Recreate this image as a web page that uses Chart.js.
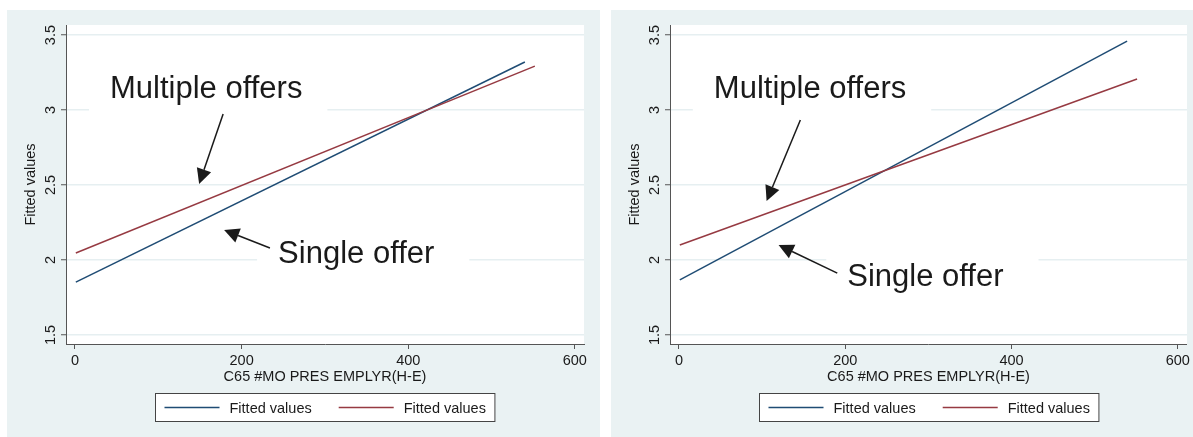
<!DOCTYPE html>
<html>
<head>
<meta charset="utf-8">
<script src="https://cdn.jsdelivr.net/npm/chart.js@4"></script>
<style>
body { margin:0; background:#fff; width:1193px; height:437px; position:relative; overflow:hidden; }
.panel { position:absolute; top:10px; height:427px; background:#eaf2f3; }
#p1 { left:7px; width:593px; }
#p2 { left:611px; width:582px; }
canvas { display:block; }
</style>
</head>
<body>
<div class="panel" id="p1"><canvas id="c1" width="593" height="427"></canvas></div>
<div class="panel" id="p2"><canvas id="c2" width="582" height="427"></canvas></div>
<script>
// ── Data ─────────────────────────────────────────────────────────────────────
const leftSingleX  = [1, 540];
const leftSingleY  = [1.853, 3.32];
const leftMultiX   = [1, 552];
const leftMultiY   = [2.047, 3.293];
const rightSingleX = [1, 539];
const rightSingleY = [1.867, 3.46];
const rightMultiX  = [1, 551];
const rightMultiY  = [2.1, 3.207];

const xTicks = [0, 200, 400, 600];
const yTicks = [1.5, 2, 2.5, 3, 3.5];
const seriesLabels = ['Fitted values', 'Fitted values'];
const noteLabels = ['Multiple offers', 'Single offer'];

const FONT = "'Liberation Sans', Arial, Helvetica, sans-serif";
const BLUE = '#1f4c74', RED = '#963a42', AXIS = '#555', GRID = '#e6eff1', INK = '#1a1a1a';

function pts(xs, ys) { return xs.map((x, i) => ({x, y: ys[i]})); }

// ── Plugins ──────────────────────────────────────────────────────────────────
const plotFill = {
  id: 'plotFill',
  beforeDraw(chart) {
    const a = chart.chartArea, c = chart.ctx;
    c.save(); c.fillStyle = '#fff';
    c.fillRect(a.left, a.top, a.right - a.left, a.bottom - a.top);
    c.restore();
  }
};

// text notes sit on white boxes (they hide the grid), arrows point at the lines
const callouts = {
  id: 'callouts',
  beforeDatasetsDraw(chart, args, o) {
    const c = chart.ctx, sx = chart.scales.x, sy = chart.scales.y;
    c.save();
    c.font = '31px ' + FONT;
    o.texts.forEach(t => {
      const px = sx.getPixelForValue(t.x), py = sy.getPixelForValue(t.y);
      const w = c.measureText(noteLabels[t.i]).width;
      c.fillStyle = '#fff';
      c.fillRect(px - 21, py - 38, w + 21 + t.padR, 58);
    });
    c.restore();
  },
  afterDatasetsDraw(chart, args, o) {
    const c = chart.ctx, sx = chart.scales.x, sy = chart.scales.y;
    c.save();
    c.font = '31px ' + FONT;
    c.fillStyle = INK; c.textBaseline = 'alphabetic'; c.textAlign = 'left';
    o.texts.forEach(t => c.fillText(noteLabels[t.i], sx.getPixelForValue(t.x), sy.getPixelForValue(t.y)));
    c.strokeStyle = INK; c.lineWidth = 1.5;
    o.arrows.forEach(a => {
      const x0 = sx.getPixelForValue(a.x0), y0 = sy.getPixelForValue(a.y0);
      const x1 = sx.getPixelForValue(a.x1), y1 = sy.getPixelForValue(a.y1);
      const ang = Math.atan2(y1 - y0, x1 - x0), L = 15, H = 7.5;
      const bx = x1 - L * Math.cos(ang), by = y1 - L * Math.sin(ang);
      c.beginPath(); c.moveTo(x0, y0); c.lineTo(bx, by); c.stroke();
      c.beginPath();
      c.moveTo(x1, y1);
      c.lineTo(bx + H * Math.sin(ang), by - H * Math.cos(ang));
      c.lineTo(bx - H * Math.sin(ang), by + H * Math.cos(ang));
      c.closePath(); c.fill();
    });
    c.restore();
  }
};

// Stata-style boxed legend under the plot
const boxLegend = {
  id: 'boxLegend',
  afterDraw(chart) {
    const c = chart.ctx, a = chart.chartArea, ds = chart.data.datasets;
    c.save();
    c.font = '14.5px ' + FONT;
    const lineW = 55, gap = 10, between = 27, pad = 9;
    const widths = ds.map(d => c.measureText(d.label).width);
    const total = pad * 2 + between * (ds.length - 1) + widths.reduce((s, w) => s + lineW + gap + w, 0);
    const left = Math.round((a.left + a.right) / 2 - total / 2) + 0.5;
    const top = a.bottom + 49.5, h = 28;
    c.fillStyle = '#fff'; c.fillRect(left, top, total, h);
    c.strokeStyle = '#444'; c.lineWidth = 1; c.strokeRect(left, top, total, h);
    let x = left + pad; const cy = top + h / 2;
    ds.forEach((d, i) => {
      c.strokeStyle = d.borderColor; c.lineWidth = 1.5;
      c.beginPath(); c.moveTo(x, cy); c.lineTo(x + lineW, cy); c.stroke();
      x += lineW + gap;
      c.fillStyle = INK; c.textBaseline = 'middle';
      c.fillText(d.label, x, cy + 1);
      x += widths[i] + between;
    });
    c.restore();
  }
};

// ── Chart builder ────────────────────────────────────────────────────────────
function makeChart(id, single, multi, padRight, notes) {
  return new Chart(document.getElementById(id), {
    type: 'scatter',
    data: {
      datasets: [
        {label: seriesLabels[0], data: single, showLine: true, borderColor: BLUE, borderWidth: 1.5, pointRadius: 0, order: 1},
        {label: seriesLabels[1], data: multi, showLine: true, borderColor: RED, borderWidth: 1.5, pointRadius: 0, order: 0}
      ]
    },
    options: {
      responsive: false, animation: false, devicePixelRatio: 1,
      layout: {padding: {left: 0, top: 15, right: padRight, bottom: 48}},
      plugins: {legend: {display: false}, tooltip: {enabled: false}, callouts: notes},
      scales: {
        x: {
          type: 'linear', min: -10.8, max: 611,
          afterBuildTicks(s) { s.ticks = xTicks.map(v => ({value: v})); },
          afterFit(s) { s.height = 45; },
          border: {color: AXIS, width: 1},
          grid: {drawOnChartArea: false, tickColor: AXIS, tickLength: 5, tickWidth: 1},
          ticks: {maxRotation: 0, padding: 3, color: INK, font: {family: FONT, size: 14.5}},
          title: {display: true, text: 'C65 #MO PRES EMPLYR(H-E)', color: INK, font: {family: FONT, size: 14.5}, padding: {top: 0, bottom: 3}}
        },
        y: {
          type: 'linear', min: 1.44, max: 3.567,
          afterBuildTicks(s) { s.ticks = yTicks.map(v => ({value: v})); },
          afterFit(s) { s.width = 59; },
          border: {color: AXIS, width: 1},
          grid: {color: GRID, lineWidth: 1.5, tickColor: AXIS, tickLength: 5, tickWidth: 1},
          ticks: {minRotation: 90, maxRotation: 90, crossAlign: 'center', padding: 0, color: INK,
                  font: {family: FONT, size: 14.5}, callback: v => String(v)},
          title: {display: true, text: 'Fitted values', color: INK, font: {family: FONT, size: 14.5}, padding: {top: 15, bottom: 0}}
        }
      }
    },
    plugins: [plotFill, callouts, boxLegend]
  });
}

makeChart('c1', pts(leftSingleX, leftSingleY), pts(leftMultiX, leftMultiY), 16, {
  texts: [{i: 0, x: 42, y: 3.08, padR: 25}, {i: 1, x: 243.8, y: 1.98, padR: 35}],
  arrows: [{x0: 177.8, y0: 2.973, x1: 149, y1: 2.507}, {x0: 234, y0: 2.08, x1: 179, y1: 2.2}]
});

makeChart('c2', pts(rightSingleX, rightSingleY), pts(rightMultiX, rightMultiY), 4, {
  texts: [{i: 0, x: 41.9, y: 3.08, padR: 25}, {i: 1, x: 202.4, y: 1.827, padR: 35}],
  arrows: [{x0: 146, y0: 2.933, x1: 105.4, y1: 2.393}, {x0: 190.4, y0: 1.913, x1: 119.8, y1: 2.1}]
});
</script>
</body>
</html>
